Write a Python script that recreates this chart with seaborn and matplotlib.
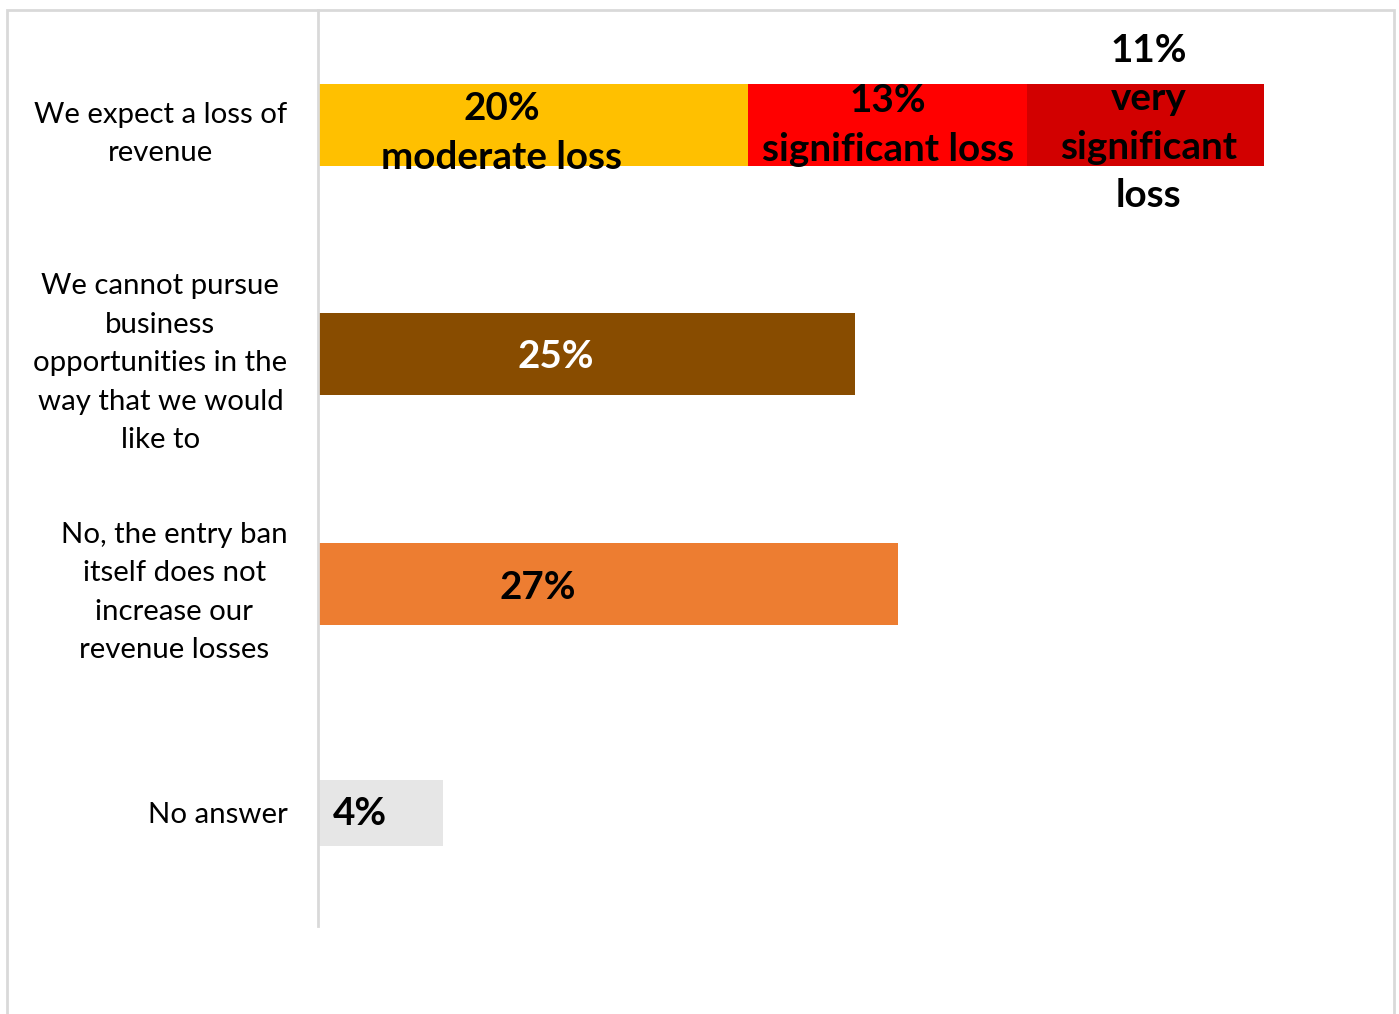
import matplotlib
matplotlib.use("Agg")
import pandas as pd
import seaborn as sns
import matplotlib.pyplot as plt
from matplotlib.patches import Rectangle

# data
categories = [
    "We expect a loss of\nrevenue",
    "We cannot pursue\nbusiness\nopportunities in the\nway that we would\nlike to",
    "No, the entry ban\nitself does not\nincrease our\nrevenue losses",
    "No answer",
]
# one row per bar segment: category index, segment value, label text
seg_cat = [0, 0, 0, 1, 2, 3]
seg_value = [20, 13, 11, 25, 27, 5.8]
seg_label = ["20%\nmoderate loss", "13%\nsignificant loss", "11%\nvery\nsignificant\nloss",
             "25%", "27%", "4%"]
seg_color = ["#FFC000", "#FF0000", "#D20000", "#884C00", "#ED7D31", "#E6E6E6"]
seg_text_color = ["black", "black", "black", "white", "black", "black"]
seg_thick = [0.358, 0.358, 0.358, 0.358, 0.358, 0.288]
# label nudges in pixels (dx right, dy down)
seg_nudge = [(-31, 8), (0, 0), (3, -2), (-31, 2), (-70, 4), (-20, 1)]

df = pd.DataFrame({
    "category": [categories[i] for i in seg_cat],
    "value": seg_value,
    "label": seg_label,
    "color": seg_color,
    "tcolor": seg_text_color,
    "thick": seg_thick,
})
df["left"] = df.groupby("category")["value"].cumsum() - df["value"]
df["end"] = df["left"] + df["value"]

sns.set_style("white")
plt.rcParams["font.family"] = ["Lato", "DejaVu Sans"]

fig = plt.figure(figsize=(13.99, 10.14), dpi=100)
ax = fig.add_axes([318 / 1399, 88 / 1014, 1076 / 1399, 916 / 1014])

# stacked bars: draw cumulative ends from the longest segment back to the first
for idx in df.sort_values("end", ascending=False).index:
    row = df.loc[idx]
    sns.barplot(x=[row["end"]], y=[row["category"]], order=categories,
                color=row["color"], width=row["thick"], saturation=1,
                edgecolor="none", linewidth=0, ax=ax)

for idx, row in df.iterrows():
    ypos = categories.index(row["category"])
    dx, dy = seg_nudge[idx]
    ax.annotate(row["label"], xy=(row["left"] + row["value"] / 2, ypos),
                xytext=(dx, -dy), textcoords="offset pixels",
                ha="center", va="center", fontsize=27.8, fontweight="bold",
                color=row["tcolor"], linespacing=1.46)

ax.set_xlim(0, 50.05)
ax.set_ylim(3.493, -0.5015)
ax.set_xlabel("")
ax.set_ylabel("")
ax.set_xticks([])
ax.set_yticks(range(len(categories)))
ax.set_yticklabels(categories, fontsize=21.2, linespacing=1.6, color="black")
for lab in ax.get_yticklabels():
    lab.set_multialignment("center")
ax.tick_params(axis="y", length=0, pad=22)

for side in ["top", "right", "bottom"]:
    ax.spines[side].set_visible(False)
ax.spines["left"].set_color("#D9D9D9")
ax.spines["left"].set_linewidth(2)

# light frame around the chart
fig.add_artist(Rectangle((7 / 1399, -0.05), 1387 / 1399, 1004 / 1014 + 0.05,
                         transform=fig.transFigure, fill=False,
                         edgecolor="#D9D9D9", linewidth=2))

fig.savefig("out.png", dpi=100)
